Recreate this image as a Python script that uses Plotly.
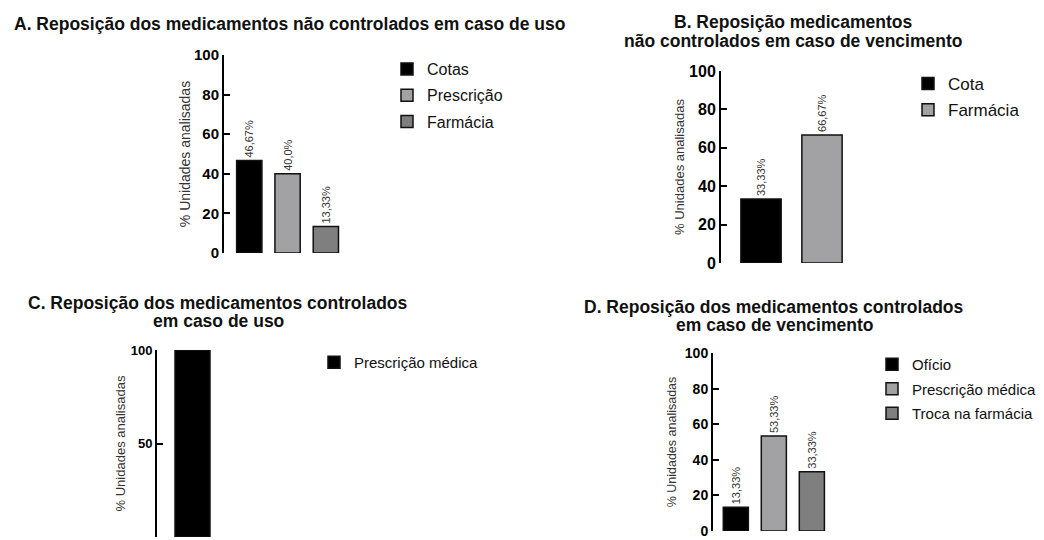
import plotly.graph_objects as go

# ---------------- data ----------------
a_categories = ["Cotas", "Prescrição", "Farmácia"]
a_values = [46.67, 40.0, 13.33]
a_labels = ["46,67%", "40,0%", "13,33%"]

b_categories = ["Cota", "Farmácia"]
b_values = [33.33, 66.67]
b_labels = ["33,33%", "66,67%"]

c_categories = ["Prescrição médica"]
c_values = [100]
c_labels = [""]

d_categories = ["Ofício", "Prescrição médica", "Troca na farmácia"]
d_values = [13.33, 53.33, 33.33]
d_labels = ["13,33%", "53,33%", "33,33%"]

title_a = ["A. Reposição dos medicamentos não controlados em caso de uso"]
title_b = ["B. Reposição medicamentos", "não controlados em caso de vencimento"]
title_c = ["C. Reposição dos medicamentos controlados", "em caso de uso"]
title_d = ["D. Reposição dos medicamentos controlados", "em caso de vencimento"]

colors3 = ["#000000", "#a2a2a4", "#7f7f7f"]
colors2 = ["#000000", "#a2a2a4"]

# page body has an 8px margin: the figure is drawn from (8, 8)
OFF = 8
W, H = 1044 - OFF, 540 - OFF
FONT = "Arial, Liberation Sans, sans-serif"


def px(x):
    return (x - OFF) / W


def py(y):
    return 1 - (y - OFF) / H


fig = go.Figure()

panels = [
    (a_categories, a_values, a_labels, colors3, "", "legend", (224, 345), (55, 253), [-0.66, 2.5], 15, 14, 0.66, 20, 0),
    (b_categories, b_values, b_labels, colors2, "2", "legend2", (721, 860), (71, 263), [-0.656, 1.623], 16, 13, 0.66, 20, 2),
    (c_categories, c_values, c_labels, ["#000000"], "3", "legend3", (157, 240), (350, 537), [-0.71, 0.95], 13, 13, 0.7, 50, 2),
    (d_categories, d_values, d_labels, colors3, "4", "legend4", (713, 840), (353, 531), [-0.6, 2.74], 14, 12.5, 0.66, 20, 5),
]

layout_axes = {}
for cats, vals, labels, cols, sfx, leg, xd, yd, xr, tsize, ttsize, bw, dt, so in panels:
    for cat, val, lab, col in zip(cats, vals, labels, cols):
        fig.add_trace(go.Bar(
            x=[cat], y=[val], name=cat, text=[lab], legendgroup=leg + cat,
            textposition="outside", textangle=-90, constraintext="none",
            cliponaxis=False,
            textfont=dict(family=FONT, size=11, color="#333333"),
            marker=dict(color=col, line=dict(color="#111111", width=1.5)),
            width=bw,
            xaxis="x" + sfx, yaxis="y" + sfx, legend=leg,
            hoverinfo="skip",
        ))
    layout_axes["xaxis" + sfx] = dict(
        domain=[px(xd[0]), px(xd[1])], anchor="y" + sfx, visible=False,
        range=xr, type="category", fixedrange=True, automargin=False,
    )
    layout_axes["yaxis" + sfx] = dict(
        domain=[py(yd[1]), py(yd[0])], anchor="x" + sfx,
        range=[0, 100], dtick=dt, tick0=0, automargin=False,
        showgrid=False, zeroline=False,
        showline=True, linecolor="#000000", linewidth=2,
        ticks="inside", ticklen=6, tickwidth=2, tickcolor="#000000",
        tickfont=dict(family=FONT, size=tsize, color="#000000", weight="bold"),
        title=dict(text="% Unidades analisadas",
                   font=dict(family=FONT, size=ttsize, color="#333333"),
                   standoff=so),
    )

legend_common = dict(bgcolor="rgba(0,0,0,0)", xanchor="left", yanchor="top",
                     itemclick=False, itemdoubleclick=False, traceorder="grouped")

fig.update_layout(
    template="none",
    width=W, height=H,
    margin=dict(l=0, r=0, t=0, b=0, autoexpand=False),
    plot_bgcolor="white", paper_bgcolor="white",
    barmode="overlay",
    showlegend=True,
    font=dict(family=FONT),
    legend=dict(x=px(387), y=py(52), tracegroupgap=2.5,
                font=dict(family=FONT, size=16, color="#111111"), **legend_common),
    legend2=dict(x=px(908), y=py(66), tracegroupgap=1,
                 font=dict(family=FONT, size=17, color="#111111"), **legend_common),
    legend3=dict(x=px(314), y=py(346), tracegroupgap=0,
                 font=dict(family=FONT, size=15, color="#111111"), **legend_common),
    legend4=dict(x=px(872), y=py(348), tracegroupgap=2,
                 font=dict(family=FONT, size=15, color="#111111"), **legend_common),
    **layout_axes,
)

titles = [
    (title_a, 12, [24], "left"),
    (title_b, 793, [22, 41], "center"),
    (title_c, 218, [303, 321], "center"),
    (title_d, 774, [307, 325], "center"),
]
for lines, x, ys, al in titles:
    for line, y in zip(lines, ys):
        fig.add_annotation(
            text=line, x=px(x), y=py(y), xref="paper", yref="paper",
            xanchor=al, yanchor="middle", align="center", showarrow=False,
            font=dict(family=FONT, size=17.5, color="#111111", weight="bold"),
        )

fig.write_html("out.html")
